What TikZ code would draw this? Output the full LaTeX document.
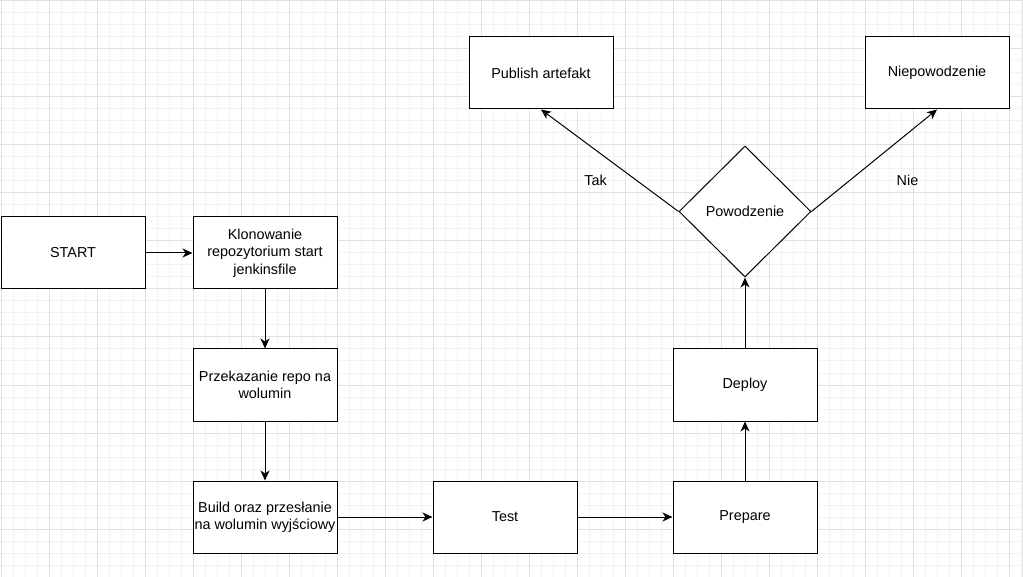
\documentclass[tikz,border=0pt]{standalone}
\usepackage{fontspec}
\setmainfont{Liberation Sans}
\usetikzlibrary{shapes.geometric,arrows.meta}
\definecolor{gridmajor}{HTML}{E0E0E0}
\definecolor{gridminor}{HTML}{F3F3F3}
\tikzset{
  box/.style={draw=black, line width=1pt, fill=white, rectangle, minimum width=144pt, minimum height=72pt, inner sep=0pt, align=center, font=\fontsize{14.4}{17.28}\selectfont},
  decision/.style={draw=black, line width=1pt, fill=white, diamond, aspect=1, minimum width=132pt, minimum height=131pt, inner sep=0pt, font=\fontsize{14.4}{17.28}\selectfont},
  conn/.style={draw=black, line width=1pt, -{Stealth[length=10pt,width=9pt,inset=3pt]}},
  lbl/.style={inner sep=0pt, font=\fontsize{14.4}{17.28}\selectfont},
}
\begin{document}
\begin{tikzpicture}[x=1pt,y=-1pt]
\useasboundingbox (0,0) rectangle (1023,577);
\fill[white] (0,0) rectangle (1023,577);
% grid
\foreach \i in {0,...,85} {
  \draw[gridminor, line width=1pt] (1+12*\i,0) -- (1+12*\i,577);
}
\foreach \j in {0,...,48} {
  \draw[gridminor, line width=1pt] (0,1+12*\j) -- (1023,1+12*\j);
}
\foreach \i in {0,...,21} {
  \draw[gridmajor, line width=1pt] (1+48*\i,0) -- (1+48*\i,577);
}
\foreach \j in {0,...,12} {
  \draw[gridmajor, line width=1pt] (0,1+48*\j) -- (1023,1+48*\j);
}
\draw[gridmajor, line width=1pt] (1022.5,0) -- (1022.5,577);
% nodes
\node[box] (start) at (73,253) {START};
\node[box] (klon) at (265,253) {Klonowanie\\repozytorium start\\jenkinsfile};
\node[box] (przek) at (265,385) {Przekazanie repo na\\wolumin};
\node[box] (build) at (265,517) {Build oraz przesłanie\\na wolumin wyjściowy};
\node[box] (test) at (505,517) {Test};
\node[box] (prep) at (745,517) {Prepare};
\node[box] (deploy) at (745,385) {Deploy};
\node[decision] (dia) at (745,211.5) {Powodzenie};
\node[box] (pub) at (541,73) {Publish artefakt};
\node[box] (niep) at (937,73) {Niepowodzenie};
\node[lbl] (tak) at (595.5,180) {Tak};
\node[lbl] (nie) at (907.5,180) {Nie};
% connectors
\draw[conn] (start) -- (klon);
\draw[conn] (klon) -- (przek);
\draw[conn] (przek) -- (build);
\draw[conn] (build) -- (test);
\draw[conn] (test) -- (prep);
\draw[conn] (prep) -- (deploy);
\draw[conn] (deploy) -- (dia.south);
\draw[conn] (dia.west) -- (pub.south);
\draw[conn] (dia.east) -- (niep.south);
\end{tikzpicture}
\end{document}
